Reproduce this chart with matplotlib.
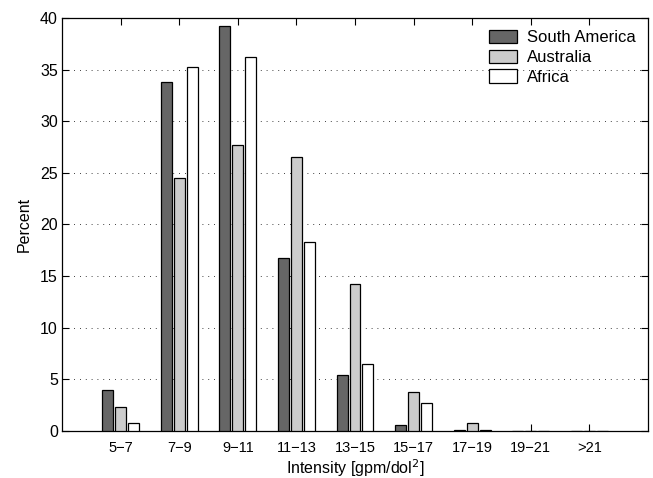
import matplotlib
matplotlib.use("Agg")
import matplotlib.pyplot as plt
import numpy as np

plt.rcParams['font.family'] = ['Liberation Sans', 'DejaVu Sans']

categories = ["5\u22127", "7\u22129", "9\u221211", "11\u221213", "13\u221215",
              "15\u221217", "17\u221219", "19\u221221", ">21"]
south_america = [4.0, 33.8, 39.2, 16.8, 5.4, 0.6, 0.05, 0.0, 0.0]
australia = [2.3, 24.5, 27.7, 26.5, 14.2, 3.8, 0.8, 0.03, 0.0]
africa = [0.8, 35.3, 36.2, 18.3, 6.5, 2.7, 0.05, 0.0, 0.0]

series = [("South America", south_america, "#666666"),
          ("Australia", australia, "#cccccc"),
          ("Africa", africa, "#ffffff")]

fig = plt.figure(figsize=(6.53, 4.78), dpi=100)
ax = fig.add_axes([62 / 653, 1 - 431 / 478, 586 / 653, 413 / 478])

x = np.arange(1, len(categories) + 1)
w = 0.187
for i, (name, vals, col) in enumerate(series):
    ax.bar(x + (i - 1) * 0.22, vals, width=w, color=col, edgecolor="black",
           linewidth=0.9, label=name, zorder=3)

ax.set_xlim(0, 10)
ax.set_ylim(0, 40)
ax.set_xticks(x)
ax.set_xticklabels(categories, fontsize=10.5)
ax.set_yticks(np.arange(0, 41, 5))
ax.tick_params(axis='y', labelsize=11.5, pad=3)
ax.tick_params(axis='x', pad=7)
ax.tick_params(direction='in', top=True, right=True, length=5, width=0.8)
ax.yaxis.grid(True, linestyle=(0, (1, 6)), color="black", linewidth=0.6)
for s in ax.spines.values():
    s.set_linewidth(0.9)

ax.set_xlabel("Intensity [gpm/dol$^2$]", fontsize=11.5, labelpad=2)
ax.set_ylabel("Percent", fontsize=11.5, labelpad=6)

leg = ax.legend(loc="upper left", bbox_to_anchor=(489 / 653, 1 - 30 / 478),
                bbox_transform=fig.transFigure, fontsize=12, frameon=False,
                handlelength=1.68, handleheight=0.84, handletextpad=0.6,
                labelspacing=0.26, borderpad=0, borderaxespad=0)

fig.savefig("out.png", dpi=100)
